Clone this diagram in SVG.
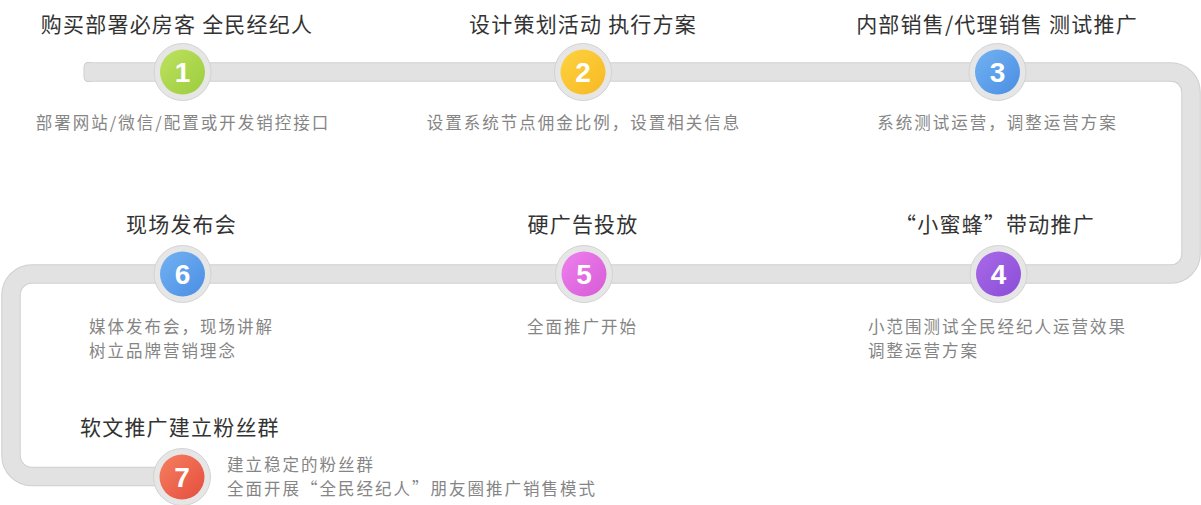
<svg xmlns="http://www.w3.org/2000/svg" width="1201" height="505" viewBox="0 0 1201 505">
<style>
.title{font-family:"Noto Sans CJK SC","Noto Sans",sans-serif;font-size:21px;fill:#333333;letter-spacing:1.2px}
.sub{font-family:"Noto Sans CJK SC","Noto Sans",sans-serif;font-size:16.5px;fill:#858585;letter-spacing:2px}
.mid{text-anchor:middle}
.num{font-family:"Liberation Sans",Arial,sans-serif;font-weight:bold;font-size:28px;fill:#ffffff;text-anchor:middle}
.ring{fill:#e6e6e6;stroke:#d3d3d3;stroke-width:1}
</style>
<defs>
<linearGradient id="gGreen" x1="0" y1="0" x2="1" y2="1"><stop offset="0" stop-color="#bde25e"/><stop offset="1" stop-color="#9ccc3d"/></linearGradient>
<linearGradient id="gYellow" x1="0" y1="0" x2="1" y2="1"><stop offset="0" stop-color="#fdd33e"/><stop offset="1" stop-color="#f7b924"/></linearGradient>
<linearGradient id="gBlue" x1="0" y1="0" x2="1" y2="1"><stop offset="0" stop-color="#72b2f2"/><stop offset="1" stop-color="#4a8ee3"/></linearGradient>
<linearGradient id="gPurple" x1="0" y1="0" x2="1" y2="1"><stop offset="0" stop-color="#a96ae8"/><stop offset="1" stop-color="#8a4dd6"/></linearGradient>
<linearGradient id="gPink" x1="0" y1="0" x2="1" y2="1"><stop offset="0" stop-color="#ee80ee"/><stop offset="1" stop-color="#d65bd6"/></linearGradient>
<linearGradient id="gRed" x1="0" y1="0" x2="1" y2="1"><stop offset="0" stop-color="#f5805f"/><stop offset="1" stop-color="#e54d3e"/></linearGradient>
</defs>
<g id="connectors">
<path d="M86,72 H1171 A20,20 0 0 1 1191,92 V254 A20,20 0 0 1 1171,274 H32 A21,21 0 0 0 11,295 V455.5 A21,21 0 0 0 32,476.5 H182" fill="none" stroke="#cfcfcf" stroke-width="19.5" stroke-linejoin="round"/>
<path d="M87,72 H1171 A20,20 0 0 1 1191,92 V254 A20,20 0 0 1 1171,274 H32 A21,21 0 0 0 11,295 V455.5 A21,21 0 0 0 32,476.5 H182" fill="none" stroke="#e2e2e2" stroke-width="17.5" stroke-linejoin="round"/>
<rect x="84" y="62.5" width="10" height="19" rx="4" fill="#e2e2e2" stroke="#cfcfcf" stroke-width="1"/>
<rect x="88" y="63.3" width="8" height="17.4" fill="#e2e2e2"/>
</g>
<g id="node1">
<text class="title mid" x="177" y="32">购买部署必房客 全民经纪人</text>
<circle class="ring" cx="182.5" cy="72" r="28.5"/>
<circle cx="182.5" cy="72" r="22.5" fill="url(#gGreen)"/>
<text class="num" x="182.5" y="82">1</text>
<text class="sub mid" x="183" y="129">部署网站/微信/配置或开发销控接口</text>
</g>
<g id="node2">
<text class="title mid" x="583" y="32">设计策划活动 执行方案</text>
<circle class="ring" cx="583" cy="72" r="28.5"/>
<circle cx="583" cy="72" r="22.5" fill="url(#gYellow)"/>
<text class="num" x="583" y="82">2</text>
<text class="sub mid" x="584" y="129">设置系统节点佣金比例，设置相关信息</text>
</g>
<g id="node3">
<text class="title mid" x="997" y="32">内部销售/代理销售 测试推广</text>
<circle class="ring" cx="997.5" cy="72" r="28.5"/>
<circle cx="997.5" cy="72" r="22.5" fill="url(#gBlue)"/>
<text class="num" x="997.5" y="82">3</text>
<text class="sub mid" x="997.5" y="129">系统测试运营，调整运营方案</text>
</g>
<g id="node4">
<text class="title mid" x="995" y="232">“小蜜蜂”带动推广</text>
<circle class="ring" cx="998.5" cy="274" r="28.5"/>
<circle cx="998.5" cy="274" r="22.5" fill="url(#gPurple)"/>
<text class="num" x="998.5" y="284">4</text>
<text class="sub" x="868" y="333">小范围测试全民经纪人运营效果</text>
<text class="sub" x="868" y="357">调整运营方案</text>
</g>
<g id="node5">
<text class="title mid" x="583" y="232">硬广告投放</text>
<circle class="ring" cx="584" cy="274" r="28.5"/>
<circle cx="584" cy="274" r="22.5" fill="url(#gPink)"/>
<text class="num" x="584" y="284">5</text>
<text class="sub mid" x="582.5" y="333">全面推广开始</text>
</g>
<g id="node6">
<text class="title mid" x="181.5" y="232">现场发布会</text>
<circle class="ring" cx="182.5" cy="274" r="28.5"/>
<circle cx="182.5" cy="274" r="22.5" fill="url(#gBlue)"/>
<text class="num" x="182.5" y="284">6</text>
<text class="sub" x="89" y="333">媒体发布会，现场讲解</text>
<text class="sub" x="89" y="357">树立品牌营销理念</text>
</g>
<g id="node7">
<text class="title" x="80" y="435">软文推广建立粉丝群</text>
<circle class="ring" cx="182" cy="477" r="28.5"/>
<circle cx="182" cy="477" r="22.5" fill="url(#gRed)"/>
<text class="num" x="182" y="487">7</text>
<text class="sub" x="227" y="471">建立稳定的粉丝群</text>
<text class="sub" x="227" y="495">全面开展“全民经纪人”朋友圈推广销售模式</text>
</g>
</svg>
